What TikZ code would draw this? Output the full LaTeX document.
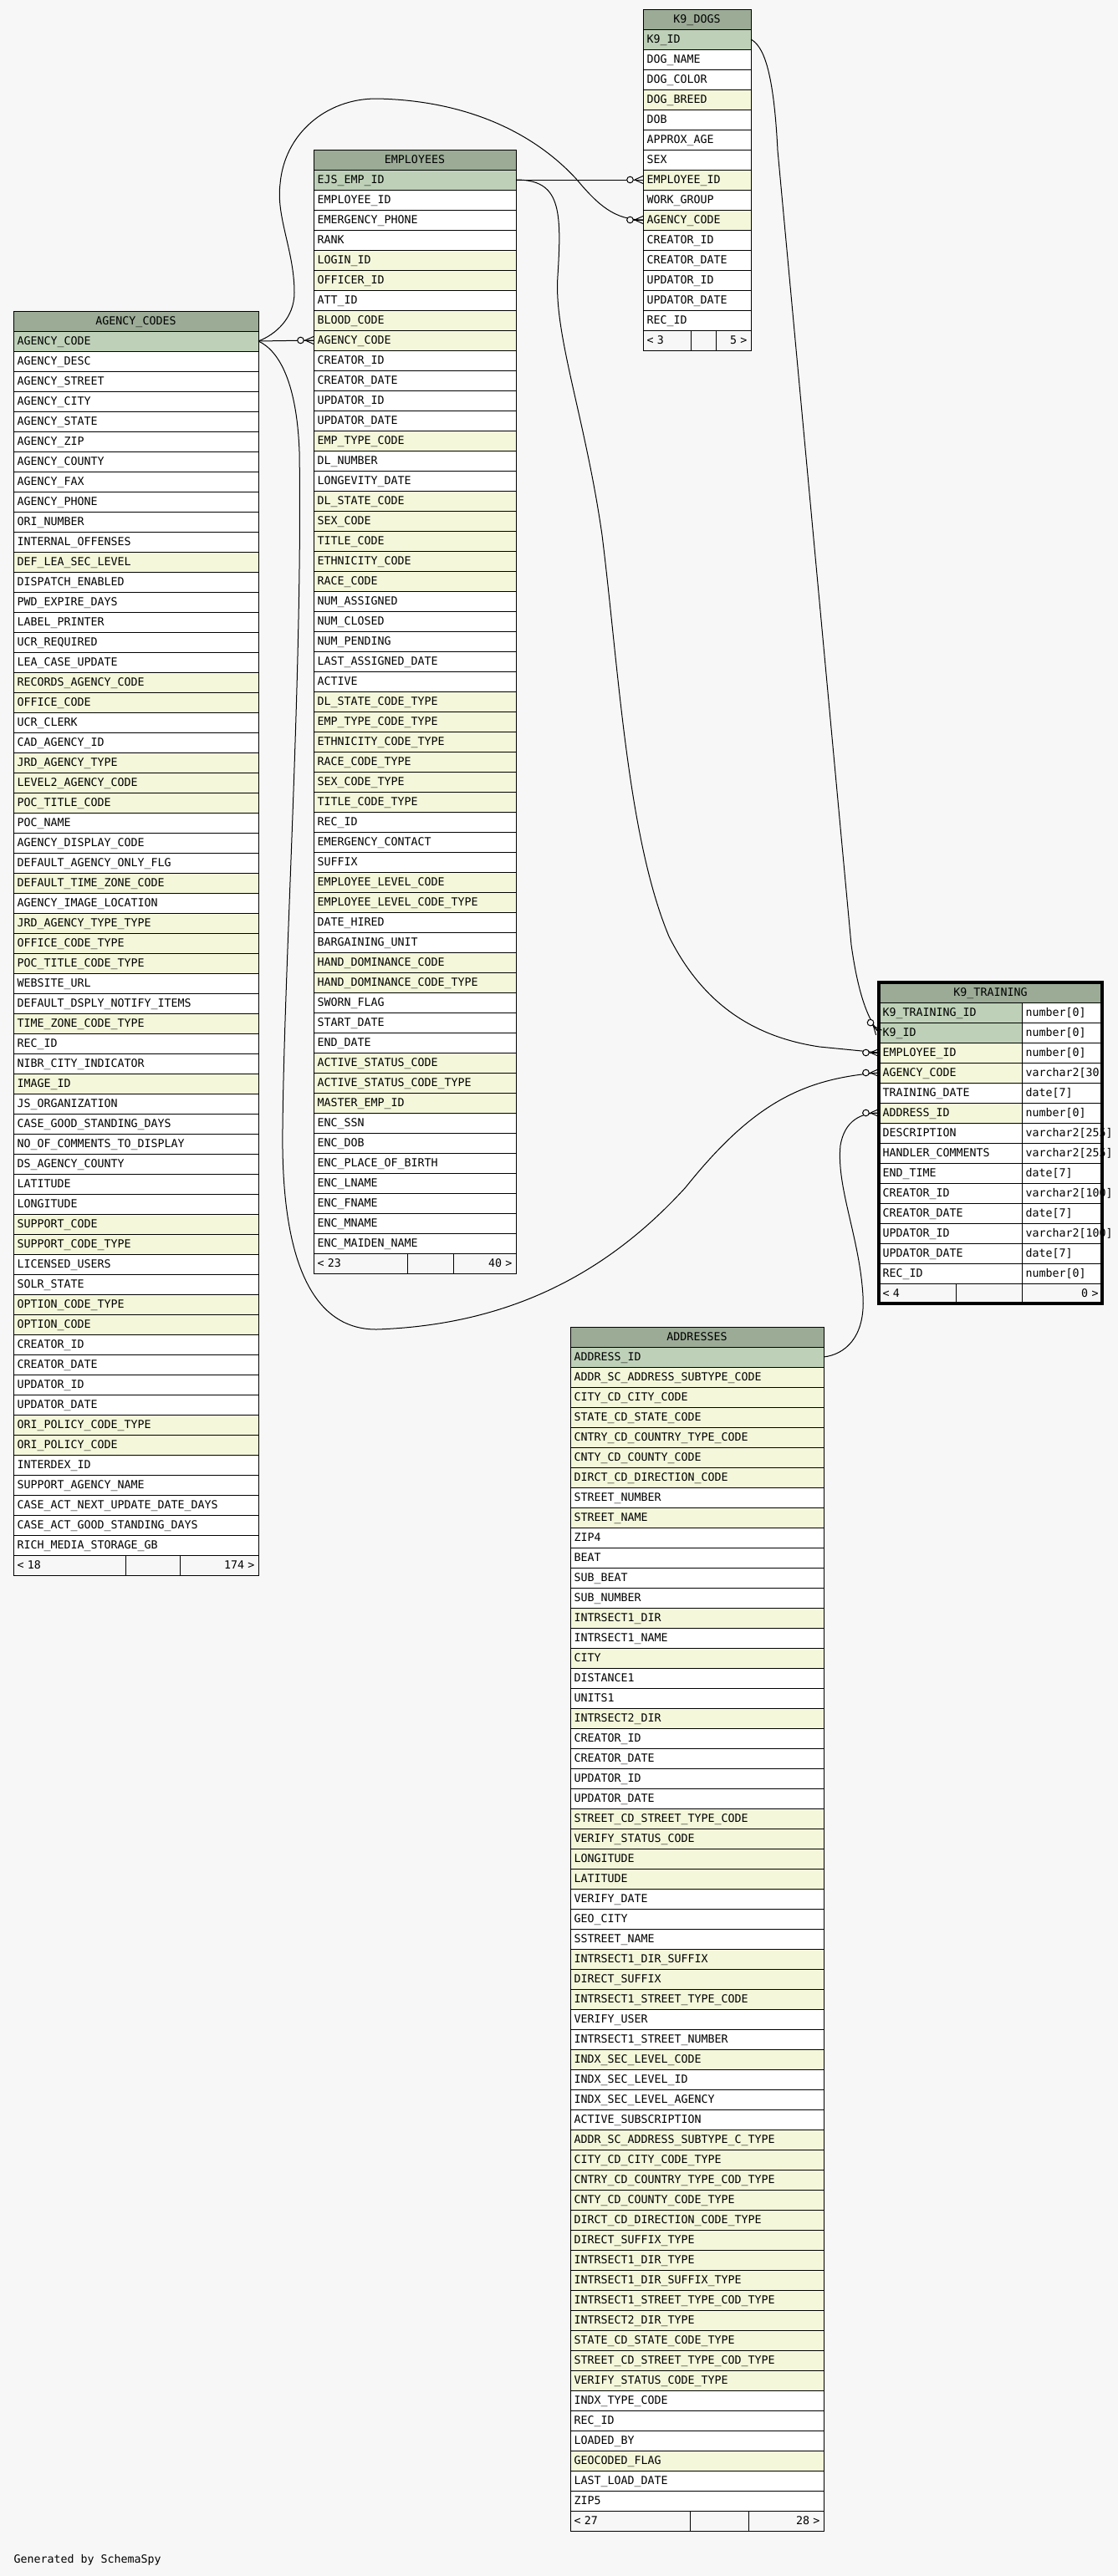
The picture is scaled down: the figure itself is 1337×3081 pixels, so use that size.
\documentclass[tikz,border=0pt]{standalone}
\usepackage{fontspec}
\newfontfamily\erdfont{DejaVu Sans Mono}
\definecolor{bg}{HTML}{F7F7F7}
\definecolor{headbg}{HTML}{9BAB96}
\definecolor{rowp}{HTML}{BED1B8}
\definecolor{rowf}{HTML}{F4F7DA}
\definecolor{rown}{HTML}{FFFFFF}
\newcommand\erdtable[6]{%
	\node[headcell, minimum width=#4pt] (#1-0) at (#2,#3) {#5};
	\pgfmathsetmacro\erdtw{#4-9}
	\foreach \txt/\kind [count=\i] in {#6}
		\node[cell=\kind, text width=\erdtw pt] (#1-\i) at (#2,#3+24*\i) {\txt};
}
\newcommand\erdfoot[7]{%
	\pgfmathsetmacro\erdwa{#3-9}\pgfmathsetmacro\erdwc{#5-9}
	\node[footcell, text width=\erdwa pt] (#1-f1) at (#2.south west) {#6};
	\node[footcell, minimum width=#4pt] (#1-f2) at (#1-f1.north east) {};
	\node[footcell, text width=\erdwc pt, align=right] (#1-f3) at (#1-f2.north east) {#7};
}
\begin{document}
\begin{tikzpicture}[x=1pt, y=-1pt, line width=1pt, font={\erdfont\fontsize{13.3}{16}\selectfont},
	cell/.style={draw, fill=row#1, anchor=north west, outer sep=0pt, inner xsep=4.5pt, inner ysep=0pt, minimum height=24pt, text height=9.7pt, text depth=0pt, align=left},
	headcell/.style={cell=n, fill=headbg, align=center},
	footcell/.style={cell=n, fill=bg},
	crowfoot/.pic={
		\draw (0,0) -- (-20,0);
		\filldraw[fill=bg] (-15.5,0) circle[radius=3.8];
		\draw (-10,0) -- (0,-4.5) (-10,0) -- (0,4.5);
	}]
	\fill[bg] (0,0) rectangle (1337,3081);
	\erdtable{k9d}{769}{11}{129}{K9\_DOGS}{K9\_ID/p, DOG\_NAME/n, DOG\_COLOR/n, DOG\_BREED/f, DOB/n, APPROX\_AGE/n, SEX/n,
		EMPLOYEE\_ID/f, WORK\_GROUP/n, AGENCY\_CODE/f, CREATOR\_ID/n, CREATOR\_DATE/n, UPDATOR\_ID/n, UPDATOR\_DATE/n, REC\_ID/n}
	\erdfoot{k9d}{k9d-15}{57}{30}{42}{< 3}{5 >}
	\erdtable{emp}{375}{179}{242}{EMPLOYEES}{EJS\_EMP\_ID/p, EMPLOYEE\_ID/n, EMERGENCY\_PHONE/n, RANK/n, LOGIN\_ID/f,
		OFFICER\_ID/f, ATT\_ID/n, BLOOD\_CODE/f, AGENCY\_CODE/f, CREATOR\_ID/n, CREATOR\_DATE/n, UPDATOR\_ID/n,
		UPDATOR\_DATE/n, EMP\_TYPE\_CODE/f, DL\_NUMBER/n, LONGEVITY\_DATE/n, DL\_STATE\_CODE/f, SEX\_CODE/f,
		TITLE\_CODE/f, ETHNICITY\_CODE/f, RACE\_CODE/f, NUM\_ASSIGNED/n, NUM\_CLOSED/n, NUM\_PENDING/n,
		LAST\_ASSIGNED\_DATE/n, ACTIVE/n, DL\_STATE\_CODE\_TYPE/f, EMP\_TYPE\_CODE\_TYPE/f, ETHNICITY\_CODE\_TYPE/f,
		RACE\_CODE\_TYPE/f, SEX\_CODE\_TYPE/f, TITLE\_CODE\_TYPE/f, REC\_ID/n, EMERGENCY\_CONTACT/n, SUFFIX/n,
		EMPLOYEE\_LEVEL\_CODE/f, EMPLOYEE\_LEVEL\_CODE\_TYPE/f, DATE\_HIRED/n, BARGAINING\_UNIT/n,
		HAND\_DOMINANCE\_CODE/f, HAND\_DOMINANCE\_CODE\_TYPE/f, SWORN\_FLAG/n, START\_DATE/n, END\_DATE/n,
		ACTIVE\_STATUS\_CODE/f, ACTIVE\_STATUS\_CODE\_TYPE/f, MASTER\_EMP\_ID/f, ENC\_SSN/n, ENC\_DOB/n,
		ENC\_PLACE\_OF\_BIRTH/n, ENC\_LNAME/n, ENC\_FNAME/n, ENC\_MNAME/n, ENC\_MAIDEN\_NAME/n}
	\erdfoot{emp}{emp-54}{112}{55}{75}{< 23}{40 >}
	\erdtable{agc}{16}{372}{293}{AGENCY\_CODES}{AGENCY\_CODE/p, AGENCY\_DESC/n, AGENCY\_STREET/n, AGENCY\_CITY/n,
		AGENCY\_STATE/n, AGENCY\_ZIP/n, AGENCY\_COUNTY/n, AGENCY\_FAX/n, AGENCY\_PHONE/n, ORI\_NUMBER/n,
		INTERNAL\_OFFENSES/n, DEF\_LEA\_SEC\_LEVEL/f, DISPATCH\_ENABLED/n, PWD\_EXPIRE\_DAYS/n, LABEL\_PRINTER/n,
		UCR\_REQUIRED/n, LEA\_CASE\_UPDATE/n, RECORDS\_AGENCY\_CODE/f, OFFICE\_CODE/f, UCR\_CLERK/n,
		CAD\_AGENCY\_ID/n, JRD\_AGENCY\_TYPE/f, LEVEL2\_AGENCY\_CODE/f, POC\_TITLE\_CODE/f, POC\_NAME/n,
		AGENCY\_DISPLAY\_CODE/n, DEFAULT\_AGENCY\_ONLY\_FLG/n, DEFAULT\_TIME\_ZONE\_CODE/f, AGENCY\_IMAGE\_LOCATION/n,
		JRD\_AGENCY\_TYPE\_TYPE/f, OFFICE\_CODE\_TYPE/f, POC\_TITLE\_CODE\_TYPE/f, WEBSITE\_URL/n,
		DEFAULT\_DSPLY\_NOTIFY\_ITEMS/n, TIME\_ZONE\_CODE\_TYPE/f, REC\_ID/n, NIBR\_CITY\_INDICATOR/n, IMAGE\_ID/f,
		JS\_ORGANIZATION/n, CASE\_GOOD\_STANDING\_DAYS/n, NO\_OF\_COMMENTS\_TO\_DISPLAY/n, DS\_AGENCY\_COUNTY/n,
		LATITUDE/n, LONGITUDE/n, SUPPORT\_CODE/f, SUPPORT\_CODE\_TYPE/f, LICENSED\_USERS/n, SOLR\_STATE/n,
		OPTION\_CODE\_TYPE/f, OPTION\_CODE/f, CREATOR\_ID/n, CREATOR\_DATE/n, UPDATOR\_ID/n, UPDATOR\_DATE/n,
		ORI\_POLICY\_CODE\_TYPE/f, ORI\_POLICY\_CODE/f, INTERDEX\_ID/n, SUPPORT\_AGENCY\_NAME/n,
		CASE\_ACT\_NEXT\_UPDATE\_DATE\_DAYS/n, CASE\_ACT\_GOOD\_STANDING\_DAYS/n, RICH\_MEDIA\_STORAGE\_GB/n}
	\erdfoot{agc}{agc-61}{134}{65}{94}{< 18}{174 >}
	\erdtable{adr}{682}{1587}{303}{ADDRESSES}{ADDRESS\_ID/p, ADDR\_SC\_ADDRESS\_SUBTYPE\_CODE/f, CITY\_CD\_CITY\_CODE/f,
		STATE\_CD\_STATE\_CODE/f, CNTRY\_CD\_COUNTRY\_TYPE\_CODE/f, CNTY\_CD\_COUNTY\_CODE/f,
		DIRCT\_CD\_DIRECTION\_CODE/f, STREET\_NUMBER/n, STREET\_NAME/f, ZIP4/n, BEAT/n, SUB\_BEAT/n, SUB\_NUMBER/n,
		INTRSECT1\_DIR/f, INTRSECT1\_NAME/n, CITY/f, DISTANCE1/n, UNITS1/n, INTRSECT2\_DIR/f, CREATOR\_ID/n,
		CREATOR\_DATE/n, UPDATOR\_ID/n, UPDATOR\_DATE/n, STREET\_CD\_STREET\_TYPE\_CODE/f, VERIFY\_STATUS\_CODE/f,
		LONGITUDE/f, LATITUDE/f, VERIFY\_DATE/n, GEO\_CITY/n, SSTREET\_NAME/n, INTRSECT1\_DIR\_SUFFIX/f,
		DIRECT\_SUFFIX/f, INTRSECT1\_STREET\_TYPE\_CODE/f, VERIFY\_USER/n, INTRSECT1\_STREET\_NUMBER/n,
		INDX\_SEC\_LEVEL\_CODE/f, INDX\_SEC\_LEVEL\_ID/n, INDX\_SEC\_LEVEL\_AGENCY/n, ACTIVE\_SUBSCRIPTION/n,
		ADDR\_SC\_ADDRESS\_SUBTYPE\_C\_TYPE/f, CITY\_CD\_CITY\_CODE\_TYPE/f, CNTRY\_CD\_COUNTRY\_TYPE\_COD\_TYPE/f,
		CNTY\_CD\_COUNTY\_CODE\_TYPE/f, DIRCT\_CD\_DIRECTION\_CODE\_TYPE/f, DIRECT\_SUFFIX\_TYPE/f,
		INTRSECT1\_DIR\_TYPE/f, INTRSECT1\_DIR\_SUFFIX\_TYPE/f, INTRSECT1\_STREET\_TYPE\_COD\_TYPE/f,
		INTRSECT2\_DIR\_TYPE/f, STATE\_CD\_STATE\_CODE\_TYPE/f, STREET\_CD\_STREET\_TYPE\_COD\_TYPE/f,
		VERIFY\_STATUS\_CODE\_TYPE/f, INDX\_TYPE\_CODE/n, REC\_ID/n, LOADED\_BY/n, GEOCODED\_FLAG/f,
		LAST\_LOAD\_DATE/n, ZIP5/n}
	\erdfoot{adr}{adr-58}{143}{70}{90}{< 27}{28 >}
	\node[headcell, minimum width=267pt] (k9t-0) at (1051,1175) {K9\_TRAINING};
	\foreach \txt/\kind/\typ [count=\i] in {K9\_TRAINING\_ID/p/number[0], K9\_ID/p/number[0], EMPLOYEE\_ID/f/number[0],
		AGENCY\_CODE/f/varchar2[30], TRAINING\_DATE/n/date[7], ADDRESS\_ID/f/number[0], DESCRIPTION/n/varchar2[255],
		HANDLER\_COMMENTS/n/varchar2[255], END\_TIME/n/date[7], CREATOR\_ID/n/varchar2[100], CREATOR\_DATE/n/date[7],
		UPDATOR\_ID/n/varchar2[100], UPDATOR\_DATE/n/date[7], REC\_ID/n/number[0]}{
		\node[cell=\kind, text width=162pt] (k9t-\i) at (1051,1175+24*\i) {\txt};
		\node[cell=n, text width=87pt] (k9tt-\i) at (k9t-\i.north east) {\mbox{\typ}};
	}
	\erdfoot{k9t}{k9t-14}{92}{79}{96}{< 4}{0 >}
	\draw[line width=3.5pt] (k9t-0.north west) rectangle (k9t-f3.south east);
	\draw (k9d-1.east) .. controls (912,55) and (925,80) .. (930,180) -- (1018,1130)
		.. controls (1025,1180) and (1035,1215) .. (k9t-2.west);
	\draw (emp-1.east) -- (k9d-8.west);
	\draw (emp-1.east) .. controls (670,215) and (672,250) .. (667,330) .. controls (662,400) and (700,500) .. (720,640)
		.. controls (740,800) and (750,1000) .. (800,1120) .. controls (840,1200) and (900,1240) .. (980,1252) -- (k9t-3.west);
	\draw (agc-1.east) -- (emp-9.west);
	\draw (agc-1.east) .. controls (330,400) and (352,380) .. (352,350) .. controls (352,300) and (330,260) .. (335,220)
		.. controls (340,160) and (390,118) .. (450,118) .. controls (560,120) and (640,160) .. (690,215)
		.. controls (715,245) and (735,263) .. (k9d-10.west);
	\draw (agc-1.east) .. controls (335,420) and (355,460) .. (358,540) .. controls (362,800) and (340,1150) .. (338,1350)
		.. controls (336,1500) and (370,1590) .. (450,1590) .. controls (600,1585) and (720,1530) .. (820,1420)
		.. controls (900,1320) and (960,1290) .. (k9t-4.west);
	\draw (adr-1.east) .. controls (1010,1620) and (1035,1600) .. (1032,1550) .. controls (1028,1480) and (1000,1420) .. (1005,1370)
		.. controls (1010,1340) and (1030,1331) .. (k9t-6.west);
	\foreach \e in {k9d-8, k9d-10, emp-9, k9t-3, k9t-4, k9t-6}
		\pic at (\e.west) {crowfoot};
	\pic[rotate=-50] at (k9t-2.west) {crowfoot};
	\node[anchor=west, inner sep=0pt, text height=9.7pt, text depth=0pt] (gen) at (16,3061) {Generated by SchemaSpy};
\end{tikzpicture}
\end{document}
